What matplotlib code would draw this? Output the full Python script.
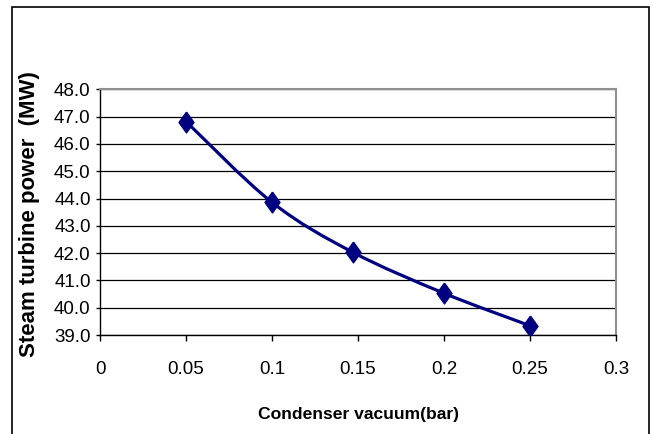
import matplotlib
matplotlib.use("Agg")
import matplotlib.pyplot as plt
from matplotlib.path import Path
from matplotlib.patches import PathPatch, Rectangle

# datos
vacuum = [0.05, 0.1, 0.147, 0.2, 0.25]
power = [46.82, 43.86, 42.03, 40.53, 39.34]
x_ticks = [0, 0.05, 0.1, 0.15, 0.2, 0.25, 0.3]
x_tick_labels = ['0', '0.05', '0.1', '0.15', '0.2', '0.25', '0.3']
y_ticks = [39, 40, 41, 42, 43, 44, 45, 46, 47, 48]

navy = '#000080'
plt.rcParams['font.family'] = ['Liberation Sans', 'DejaVu Sans']

fig = plt.figure(figsize=(6.54, 4.34), dpi=100)
ax = fig.add_axes([100 / 654, 1 - 335 / 434, 516 / 654, (335 - 89.3) / 434])

ax.set_xlim(0, 0.3)
ax.set_ylim(39, 48)
ax.set_xticks(x_ticks)
ax.set_xticklabels(x_tick_labels)
ax.set_yticks(y_ticks)
ax.set_yticklabels(['%.1f' % v for v in y_ticks])
ax.tick_params(axis='y', length=3.2, width=1, pad=3.5, labelsize=13.5)
ax.tick_params(axis='x', length=4, width=1, pad=14.5, labelsize=13.5)
ax.grid(axis='y', color='black', linewidth=0.9)
ax.set_axisbelow(True)
ax.spines['left'].set_linewidth(1)
ax.spines['bottom'].set_linewidth(1)
ax.spines['top'].set_color('#909090')
ax.spines['right'].set_color('#909090')
ax.spines['top'].set_linewidth(1.5)
ax.spines['right'].set_linewidth(1.5)

# linea suavizada tipo Excel (curvas de Bezier entre los puntos)
pts = list(zip(vacuum, power))
n = len(pts)
verts = [pts[0]]
codes = [Path.MOVETO]
for i in range(n - 1):
    p0 = pts[i - 1] if i > 0 else pts[i]
    p1 = pts[i]
    p2 = pts[i + 1]
    p3 = pts[i + 2] if i + 2 < n else pts[i + 1]
    c1 = (p1[0] + (p2[0] - p0[0]) / 6, p1[1] + (p2[1] - p0[1]) / 6)
    c2 = (p2[0] - (p3[0] - p1[0]) / 6, p2[1] - (p3[1] - p1[1]) / 6)
    verts += [c1, c2, p2]
    codes += [Path.CURVE4] * 3
ax.add_patch(PathPatch(Path(verts, codes), facecolor='none', edgecolor=navy,
                       linewidth=2.3, zorder=3))

diamond = [(0, 1), (0.72, 0), (0, -1), (-0.72, 0), (0, 1)]
ax.plot(vacuum, power, linestyle='none', marker=diamond, markersize=15,
        color=navy, zorder=4)

fig.text(30 / 654, 1 - 214 / 434, 'Steam turbine power  (MW)', rotation=90,
         ha='center', va='center', fontsize=16, fontweight='bold')
fig.text(359 / 654, 1 - 414 / 434, 'Condenser vacuum(bar)',
         ha='center', va='center', fontsize=12.6, fontweight='bold')

# marco exterior
fig.patches.append(Rectangle((11.7 / 654, -0.05), (649.3 - 11.7) / 654,
                             1 - 6.7 / 434 + 0.05, transform=fig.transFigure,
                             fill=False, edgecolor='black', linewidth=1.2))

fig.savefig('out.png', dpi=100)
